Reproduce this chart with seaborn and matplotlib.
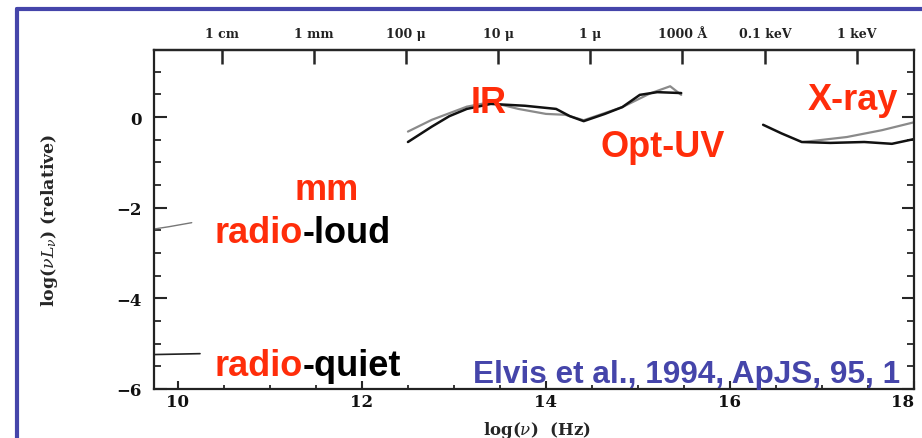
import matplotlib
matplotlib.use("Agg")
import matplotlib.pyplot as plt
import seaborn as sns
from matplotlib.lines import Line2D
from matplotlib.ticker import MultipleLocator

# IR / optical-UV bump (two overlaid mean SEDs)
ir_x_dark = [12.50, 12.76, 12.95, 13.14, 13.40, 13.77, 14.11, 14.26, 14.41, 14.64, 14.83, 15.02, 15.21, 15.47]
ir_y_dark = [-0.55, -0.21, 0.02, 0.18, 0.29, 0.25, 0.18, 0.02, -0.09, 0.07, 0.22, 0.49, 0.55, 0.53]
ir_x_grey = [12.50, 12.76, 13.14, 13.40, 13.70, 14.00, 14.21, 14.41, 14.83, 15.13, 15.35, 15.47]
ir_y_grey = [-0.32, -0.06, 0.23, 0.33, 0.18, 0.07, 0.05, -0.07, 0.22, 0.52, 0.68, 0.49]

# X-ray
xr_x_dark = [16.36, 16.56, 16.78, 17.09, 17.46, 17.76, 17.99]
xr_y_dark = [-0.17, -0.36, -0.55, -0.57, -0.55, -0.59, -0.49]
xr_x_grey = [16.80, 17.27, 17.65, 17.99]
xr_y_grey = [-0.55, -0.44, -0.29, -0.12]

# radio
rl_x = [9.74, 9.90, 10.15]
rl_y = [-2.47, -2.42, -2.33]
rq_x = [9.74, 10.00, 10.24]
rq_y = [-5.24, -5.23, -5.22]

bottom_ticks = [10, 12, 14, 16, 18]
left_ticks = [0, -2, -4, -6]
top_tick_pos = [10.48, 11.48, 12.48, 13.48, 14.48, 15.48, 16.38, 17.38]
top_tick_labels = ["1 cm", "1 mm", "100 μ", "10 μ", "1 μ", "1000 Å", "0.1 keV", "1 keV"]

RED = "#ff2d0a"
BLUE = "#4545aa"
SERIF = "DejaVu Serif"

sns.set_style("ticks")
plt.rcParams["font.family"] = ["Liberation Sans", "DejaVu Sans"]
plt.rcParams["mathtext.fontset"] = "dejavuserif"

fig = plt.figure(figsize=(9.22, 4.39), dpi=100)
ax = fig.add_axes([154 / 922, 1 - 390 / 439, 760 / 922, 339 / 439])

sns.lineplot(x=ir_x_grey, y=ir_y_grey, ax=ax, color="#8a8a8a", lw=1.6, sort=False)
sns.lineplot(x=ir_x_dark, y=ir_y_dark, ax=ax, color="#111111", lw=1.8, sort=False)
sns.lineplot(x=xr_x_grey, y=xr_y_grey, ax=ax, color="#8a8a8a", lw=1.6, sort=False)
sns.lineplot(x=xr_x_dark, y=xr_y_dark, ax=ax, color="#111111", lw=1.8, sort=False)
sns.lineplot(x=rl_x, y=rl_y, ax=ax, color="#777777", lw=1.0, sort=False)
sns.lineplot(x=rq_x, y=rq_y, ax=ax, color="#222222", lw=1.2, sort=False)

ax.set_xlim(9.74, 18.0)
ax.set_ylim(-6, 1.48)

for side in ["left", "right", "top", "bottom"]:
    ax.spines[side].set_visible(True)
    ax.spines[side].set_linewidth(1.6)
    ax.spines[side].set_color("#222222")

ax.set_xticks(bottom_ticks)
ax.set_yticks(left_ticks)
ax.xaxis.set_minor_locator(MultipleLocator(0.5))
ax.yaxis.set_minor_locator(MultipleLocator(0.5))
ax.tick_params(axis="x", which="major", direction="in", length=6, width=1.5, top=False, pad=3)
ax.tick_params(axis="x", which="minor", direction="in", length=3, width=1.3, top=False)
ax.tick_params(axis="y", which="major", direction="in", length=9, width=1.5, right=True, pad=9)
ax.tick_params(axis="y", which="minor", direction="in", length=5, width=1.3, right=True)
for lab in ax.get_xticklabels() + ax.get_yticklabels():
    lab.set_fontfamily(SERIF)
    lab.set_fontweight("bold")
    lab.set_fontsize(12)
    lab.set_color("#111111")
# last bottom label sits against the figure edge
ax.get_xticklabels()[-1].set_horizontalalignment("right")
ax.get_xticklabels()[-1].set_x(18.08)

ax2 = ax.twiny()
ax2.set_xlim(ax.get_xlim())
ax2.set_xticks(top_tick_pos)
ax2.set_xticklabels(top_tick_labels, fontfamily=SERIF, fontweight="bold", fontsize=9, color="#222222")
ax2.tick_params(axis="x", direction="in", length=10, width=1.8, pad=7)
for side in ["left", "right", "bottom"]:
    ax2.spines[side].set_visible(False)
ax2.spines["top"].set_linewidth(1.6)

ax.set_xlabel("log($\\nu$)  (Hz)", fontfamily=SERIF, fontweight="bold", fontsize=12)
ax.xaxis.set_label_coords(0.504, -0.088)
ax.set_ylabel("log($\\nu L_\\nu$) (relative)", fontfamily=SERIF, fontweight="bold", fontsize=12.5)
ax.yaxis.set_label_coords(-0.124, 0.5)

big = dict(fontsize=26, fontweight="bold")
ax.text(13.38, 0.11, "IR", color=RED, ha="center", va="baseline", **big)
ax.text(15.27, -0.86, "Opt-UV", color=RED, ha="center", va="baseline", **big)
ax.text(17.34, 0.18, "X-ray", color=RED, ha="center", va="baseline", **big)
ax.text(11.62, -1.81, "mm", color=RED, ha="center", va="baseline", **big)

t1 = ax.text(10.40, -2.76, "radio", color=RED, ha="left", va="baseline", **big)
ax.annotate("-loud", xy=(1, 0), xycoords=t1, color="black", ha="left", va="bottom", **big)
t2 = ax.text(10.40, -5.69, "radio", color=RED, ha="left", va="baseline", **big)
ax.annotate("-quiet", xy=(1, 0), xycoords=t2, color="black", ha="left", va="bottom", **big)

ax.text(17.85, -5.85, "Elvis et al., 1994, ApJS, 95, 1", color=BLUE, ha="right",
        va="baseline", fontsize=22.7, fontweight="bold")

# slide frame
fx = 17 / 922
fy = 1 - 10 / 439
fig.add_artist(Line2D([fx, fx], [0, fy], transform=fig.transFigure, color=BLUE, lw=3))
fig.add_artist(Line2D([fx, 1], [fy, fy], transform=fig.transFigure, color=BLUE, lw=3))

fig.savefig("out.png", dpi=100)
